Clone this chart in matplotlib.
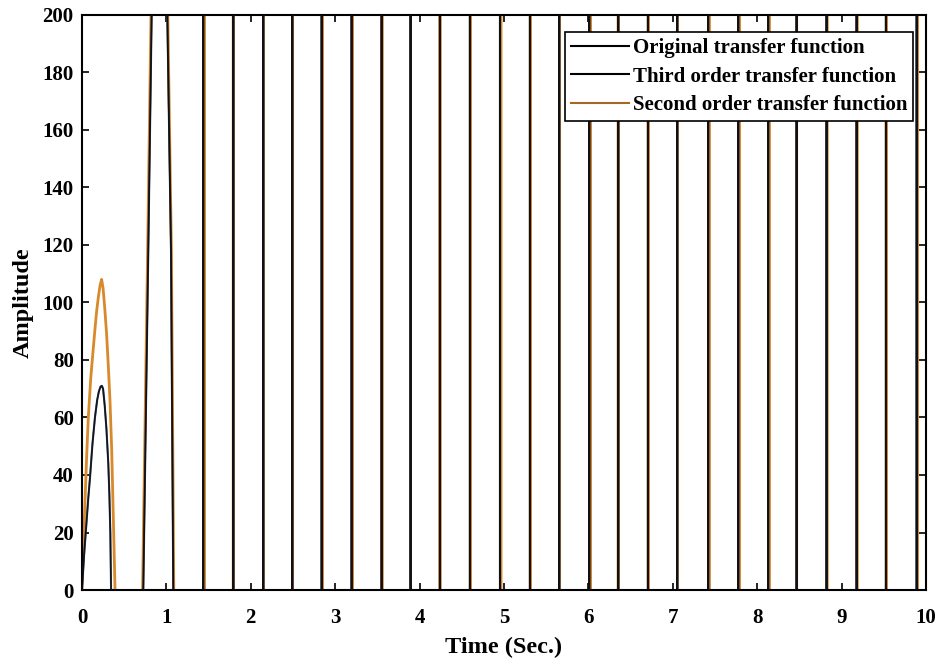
import matplotlib
matplotlib.use("Agg")
import matplotlib.pyplot as plt
import numpy as np

plt.rcParams["font.family"] = ["Liberation Serif", "DejaVu Serif"]
plt.rcParams["font.weight"] = "bold"

# ---- data -------------------------------------------------------------
# First (finite) lobe of each step response
lobe_t_orig = [0, 0.025, 0.05, 0.075, 0.095, 0.125, 0.154, 0.18, 0.20, 0.22,
               0.235, 0.25, 0.27, 0.29, 0.312, 0.325, 0.336, 0.345, 0.54]
lobe_y_orig = [0, 12, 22, 32, 39, 51, 60, 66, 69, 70.7,
               71, 70, 64, 56, 44, 33, 20, 0, -60]
lobe_t_third = lobe_t_orig
lobe_y_third = lobe_y_orig
lobe_t_second = [0, 0.018, 0.035, 0.055, 0.075, 0.105, 0.134, 0.155, 0.174,
                 0.195, 0.215, 0.233, 0.25, 0.27, 0.292, 0.312, 0.332, 0.352,
                 0.371, 0.392, 0.56]
lobe_y_second = [0, 16, 30, 46, 60, 74, 84, 91, 97,
                 102, 106, 108, 105, 98, 89, 78, 66, 49,
                 26, 0, -90]

# Second lobe, which already leaves the plotted range
big_t_orig = [0.727, 0.786, 0.826, 0.92, 1.011, 1.055, 1.082, 1.25]
big_y_orig = [0, 118, 200, 430, 200, 118, 0, -600]
big_t_second = [0.718, 0.778, 0.818, 0.92, 1.017, 1.060, 1.088, 1.25]
big_y_second = [0, 118, 200, 450, 200, 118, 0, -650]

# Later divergent swings (crossing times of the very steep spikes)
spike_t_orig = [1.437, 1.793, 2.148, 2.492, 2.840, 3.195, 3.551, 3.894, 4.242,
                4.597, 4.953, 5.308, 5.655, 6.011, 6.354, 6.706, 7.053, 7.420,
                7.776, 8.131, 8.468, 8.823, 9.179, 9.526, 9.890]
spike_t_second = [1.447, 1.793, 2.152, 2.496, 2.850, 3.205, 3.555, 3.894, 4.242,
                  4.601, 4.963, 5.312, 5.659, 6.021, 6.354, 6.710, 7.057, 7.430,
                  7.786, 8.141, 8.468, 8.827, 9.183, 9.530, 9.900]
spike_peak = 1.0e5

labels = ["Original transfer function",
          "Third order transfer function",
          "Second order transfer function"]
colors = ["#000000", "#1c2b52", "#d8892a"]


def build(lobe_t, lobe_y, big_t, big_y, spikes):
    t = list(lobe_t) + list(big_t)
    y = list(lobe_y) + list(big_y)
    for s in spikes:
        t += [s, s, s]
        y += [-spike_peak, spike_peak, -spike_peak]
    return np.array(t), np.array(y)


t1, y1 = build(lobe_t_orig, lobe_y_orig, big_t_orig, big_y_orig, spike_t_orig)
t3, y3 = build(lobe_t_third, lobe_y_third, big_t_orig, big_y_orig, spike_t_orig)
t2, y2 = build(lobe_t_second, lobe_y_second, big_t_second, big_y_second, spike_t_second)

# ---- figure -----------------------------------------------------------
fig = plt.figure(figsize=(9.41, 6.69), dpi=100)
ax = fig.add_axes([0.0871, 0.118, 0.8969, 0.860])

ax.plot(t2, y2, color=colors[2], lw=2.0, zorder=2, label=labels[2])
ax.plot(t3, y3, color=colors[1], lw=1.5, zorder=3, alpha=0.8, label=labels[1])
ax.plot(t1, y1, color=colors[0], lw=1.2, zorder=4, alpha=0.75, label=labels[0])

ax.set_xlim(0, 10)
ax.set_ylim(0, 200)
ax.set_xticks(np.arange(0, 11, 1))
ax.set_yticks(np.arange(0, 201, 20))
ax.tick_params(direction="in", top=True, right=True, length=5, width=1.2,
               labelsize=15)
ax.tick_params(axis="x", pad=13)
ax.tick_params(axis="y", pad=6)
for lab in ax.get_xticklabels() + ax.get_yticklabels():
    lab.set_fontweight("bold")
for sp in ax.spines.values():
    sp.set_linewidth(1.5)

ax.set_xlabel("Time (Sec.)", fontsize=17.5, fontweight="bold", labelpad=6)
ax.set_ylabel("Amplitude", fontsize=17.5, fontweight="bold", labelpad=6)

handles, labs = ax.get_legend_handles_labels()
lookup = dict(zip(labs, handles))
leg = ax.legend([lookup[l] for l in labels], labels,
                loc="upper right", bbox_to_anchor=(0.985, 0.970),
                borderaxespad=0, fancybox=False, frameon=True,
                edgecolor="black", framealpha=1,
                prop={"weight": "bold", "size": 15},
                handlelength=2.8, handletextpad=0.15, labelspacing=0.4,
                borderpad=0.3)
leg.get_frame().set_linewidth(1.2)
leg_colors = ["#000000", "#000000", "#a8652a"]
for line, c in zip(leg.get_lines(), leg_colors):
    line.set_color(c)
    line.set_alpha(1)
    line.set_linewidth(1.5)

fig.savefig("out.png", dpi=100)
